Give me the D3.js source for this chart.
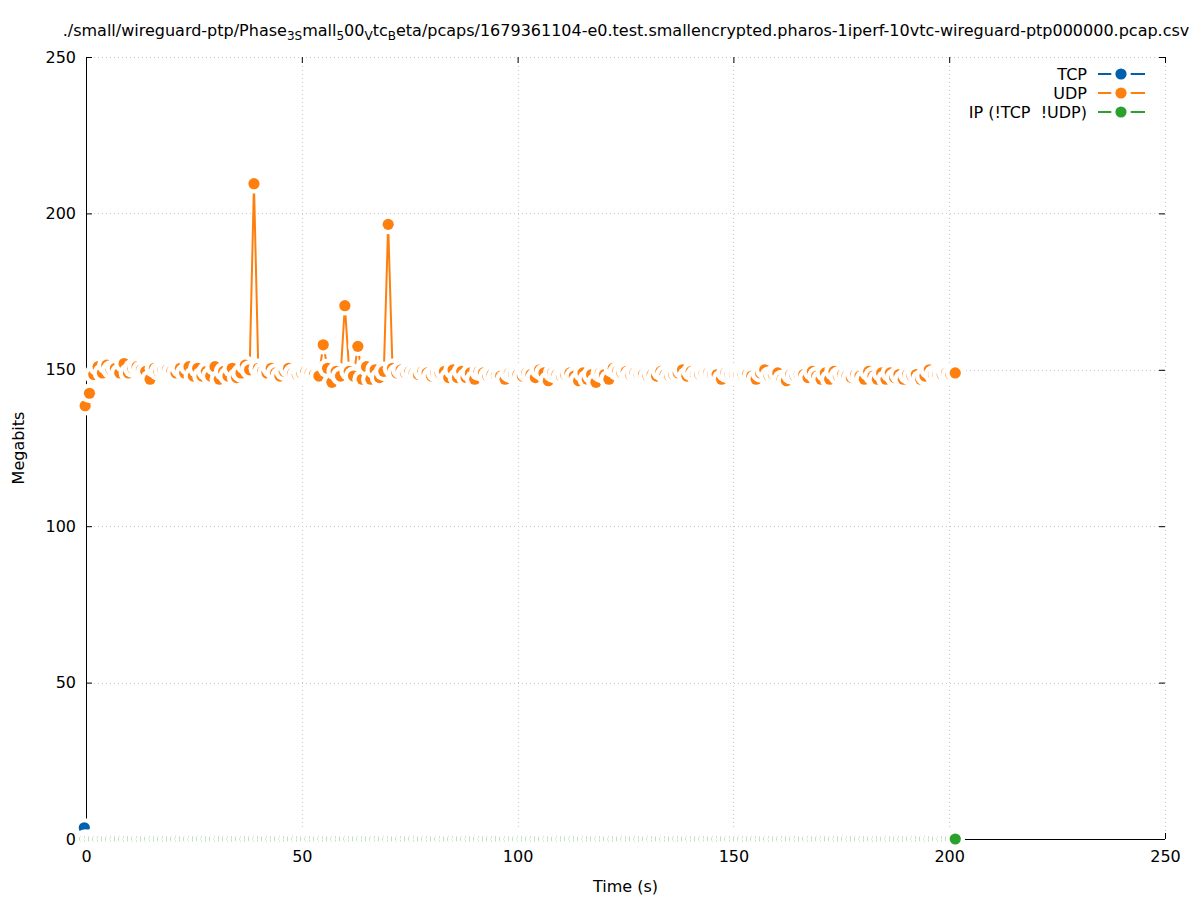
<!DOCTYPE html>
<html>
<head>
<meta charset="utf-8">
<script src="https://cdn.jsdelivr.net/npm/d3@7"></script>
<style>
  body { margin: 0; background: #fff; }
  svg { display: block; font-family: "DejaVu Sans", sans-serif; }
</style>
</head>
<body>
<div id="chart"></div>
<script>
// sampling: one row per second, first row slightly before 0
const sampleStart = -0.2;
const sampleStep = 1.003;

// UDP throughput (Megabits), one value per sample
const udpValues = [
  138.5, 142.5, 148.5, 151.0, 149.0, 151.5, 150.0, 150.5, 149.0, 152.0,
  149.0, 150.5, 151.0, 150.0, 149.5, 147.0, 150.5, 149.5, 150.0, 150.0,
  149.5, 149.0, 150.5, 149.0, 151.0, 148.0, 150.5, 148.0, 149.5, 148.0,
  151.0, 147.0, 149.5, 148.0, 150.5, 147.5, 149.0, 151.5, 150.0, 209.5,
  150.5, 149.5, 149.0, 150.5, 149.0, 148.0, 149.5, 150.5, 149.0, 148.5,
  149.0, 149.5, 149.0, 148.5, 148.0, 158.0, 150.5, 146.0, 149.5, 148.0,
  170.5, 149.5, 148.0, 157.5, 147.0, 151.0, 147.0, 150.0, 147.5, 149.5,
  196.5, 150.5, 149.0, 150.0, 149.0, 149.5, 149.0, 148.5, 149.5, 149.0,
  148.0, 149.0, 149.0, 149.5, 147.5, 150.0, 147.5, 149.5, 147.5, 149.0,
  147.0, 149.5, 149.0, 148.0, 148.5, 148.0, 148.0, 147.0, 149.0, 148.5,
  148.5, 148.0, 149.0, 148.5, 147.5, 150.0, 149.0, 146.5, 149.0, 148.5,
  148.0, 148.5, 149.0, 148.0, 146.5, 149.0, 147.0, 148.5, 146.0, 149.0,
  148.5, 147.0, 150.5, 149.5, 149.0, 149.5, 148.5, 149.0, 148.5, 148.5,
  148.0, 148.5, 148.0, 149.5, 148.5, 148.0, 148.5, 149.0, 150.0, 148.0,
  149.5, 148.5, 148.5, 149.0, 149.0, 148.5, 148.5, 147.0, 149.0, 148.5,
  148.5, 148.5, 148.5, 148.5, 148.0, 147.0, 149.0, 150.0, 148.0, 148.5,
  149.0, 147.0, 146.5, 148.5, 148.0, 148.5, 148.5, 147.5, 149.5, 148.0,
  147.0, 149.0, 147.0, 149.5, 148.0, 148.5, 148.0, 147.5, 148.5, 148.0,
  147.0, 149.5, 148.0, 147.0, 149.0, 147.0, 149.0, 147.5, 148.5, 147.0,
  148.5, 148.0, 148.5, 147.0, 148.0, 150.0, 148.5, 148.5, 148.5, 149.0,
  148.5, 149.0
];

// IP (!TCP !UDP) throughput, one value per sample
const ipValues = [
  0, 0, 0, 0, 0, 0, 0, 0, 0, 0, 0, 0, 0, 0, 0, 0, 0, 0, 0, 0,
  0, 0, 0, 0, 0, 0, 0, 0, 0, 0, 0, 0, 0, 0, 0, 0, 0, 0, 0, 0,
  0, 0, 0, 0, 0, 0, 0, 0, 0, 0, 0, 0, 0, 0, 0, 0, 0, 0, 0, 0,
  0, 0, 0, 0, 0, 0, 0, 0, 0, 0, 0, 0, 0, 0, 0, 0, 0, 0, 0, 0,
  0, 0, 0, 0, 0, 0, 0, 0, 0, 0, 0, 0, 0, 0, 0, 0, 0, 0, 0, 0,
  0, 0, 0, 0, 0, 0, 0, 0, 0, 0, 0, 0, 0, 0, 0, 0, 0, 0, 0, 0,
  0, 0, 0, 0, 0, 0, 0, 0, 0, 0, 0, 0, 0, 0, 0, 0, 0, 0, 0, 0,
  0, 0, 0, 0, 0, 0, 0, 0, 0, 0, 0, 0, 0, 0, 0, 0, 0, 0, 0, 0,
  0, 0, 0, 0, 0, 0, 0, 0, 0, 0, 0, 0, 0, 0, 0, 0, 0, 0, 0, 0,
  0, 0, 0, 0, 0, 0, 0, 0, 0, 0, 0, 0, 0, 0, 0, 0, 0, 0, 0, 0,
  0, 0
];

// TCP: a single sample right at the start
const tcpTimes = [-0.4];
const tcpValues = [3.6];

const seriesNames = ["TCP", "UDP", "IP (!TCP  !UDP)"];
const seriesColors = ["#0060ad", "#ff7f0e", "#2ca02c"];

const xTicks = [0, 50, 100, 150, 200, 250];
const yTicks = [0, 50, 100, 150, 200, 250];

const width = 1197, height = 900;
const margin = { top: 57, right: 32, bottom: 61, left: 86 };
const plotW = width - margin.left - margin.right;
const plotH = height - margin.top - margin.bottom;

const svg = d3.select("#chart").append("svg")
  .attr("width", width)
  .attr("height", height);

svg.append("rect").attr("width", width).attr("height", height).attr("fill", "#fff");

const x = d3.scaleLinear().domain([0, 250]).range([margin.left, margin.left + plotW]);
const y = d3.scaleLinear().domain([0, 250]).range([margin.top + plotH, margin.top]);

// grid
const grid = svg.append("g")
  .attr("stroke", "#c8c8c8")
  .attr("stroke-width", 1)
  .attr("stroke-dasharray", "1,3");
grid.selectAll(".gx").data(xTicks).join("line")
  .attr("x1", d => Math.round(x(d)) + 0.5).attr("x2", d => Math.round(x(d)) + 0.5)
  .attr("y1", y(0)).attr("y2", y(250));
grid.selectAll(".gy").data(yTicks).join("line")
  .attr("y1", d => Math.round(y(d)) + 0.5).attr("y2", d => Math.round(y(d)) + 0.5)
  .attr("x1", x(0)).attr("x2", x(250));

// axes (inward ticks, mirrored ticks on top and right without border)
const fontSize = 16;
const yAxis = svg.append("g")
  .attr("transform", `translate(${margin.left},0)`)
  .call(d3.axisLeft(y).tickValues(yTicks).tickSize(-6).tickPadding(10));
const xAxis = svg.append("g")
  .attr("transform", `translate(0,${margin.top + plotH})`)
  .call(d3.axisBottom(x).tickValues(xTicks).tickSize(-6).tickPadding(12));
svg.append("g")
  .attr("transform", `translate(0,${margin.top})`)
  .call(d3.axisTop(x).tickValues(xTicks).tickSize(-6).tickFormat(""))
  .call(g => g.select(".domain").remove());
svg.append("g")
  .attr("transform", `translate(${margin.left + plotW},0)`)
  .call(d3.axisRight(y).tickValues(yTicks).tickSize(-6).tickFormat(""))
  .call(g => g.select(".domain").remove());

svg.selectAll(".domain").attr("stroke", "#000");
svg.selectAll(".tick line").attr("stroke", "#000");
[xAxis, yAxis].forEach(a => a.selectAll("text")
  .attr("font-family", "DejaVu Sans")
  .attr("font-size", fontSize)
  .attr("fill", "#000"));
yAxis.select(".domain").attr("d", `M0.5,${y(0)}V${y(250)}`);
xAxis.select(".domain").attr("d", `M${x(0)},0.5H${x(250)}`);

// series: line underneath, then every point with a white halo
const ptR = 5.6, haloR = 9.8;
function drawSeries(times, values, color) {
  const pts = values.map((v, i) => ({ t: times[i], v }));
  const g = svg.append("g");
  g.append("path")
    .datum(pts)
    .attr("fill", "none")
    .attr("stroke", color)
    .attr("stroke-width", 2)
    .attr("d", d3.line().x(d => x(d.t)).y(d => y(d.v)));
  const p = g.selectAll(".pt").data(pts).join("g").attr("class", "pt");
  p.append("circle").attr("cx", d => x(d.t)).attr("cy", d => y(d.v))
    .attr("r", haloR).attr("fill", "#fff");
  p.append("circle").attr("cx", d => x(d.t)).attr("cy", d => y(d.v))
    .attr("r", ptR).attr("fill", color);
}

const udpTimes = udpValues.map((v, i) => sampleStart + i * sampleStep);
const ipTimes = ipValues.map((v, i) => sampleStart + i * sampleStep);

drawSeries(tcpTimes, tcpValues, seriesColors[0]);
drawSeries(udpTimes, udpValues, seriesColors[1]);
drawSeries(ipTimes, ipValues, seriesColors[2]);

// legend
const legend = svg.append("g");
seriesNames.forEach((name, i) => {
  const ly = 74 + i * 19;
  legend.append("text")
    .attr("x", 1087).attr("y", ly).attr("dy", "0.35em")
    .attr("text-anchor", "end")
    .attr("font-size", fontSize)
    .style("white-space", "pre")
    .text(name);
  legend.append("line")
    .attr("x1", 1098).attr("x2", 1145).attr("y1", ly).attr("y2", ly)
    .attr("stroke", seriesColors[i]).attr("stroke-width", 2);
  legend.append("circle").attr("cx", 1121).attr("cy", ly).attr("r", haloR).attr("fill", "#fff");
  legend.append("circle").attr("cx", 1121).attr("cy", ly).attr("r", ptR).attr("fill", seriesColors[i]);
});

// axis titles
svg.append("text")
  .attr("x", x(125)).attr("y", 892)
  .attr("text-anchor", "middle").attr("font-size", fontSize)
  .text("Time (s)");
svg.append("text")
  .attr("transform", `translate(24,${y(125)}) rotate(-90)`)
  .attr("text-anchor", "middle").attr("font-size", fontSize)
  .text("Megabits");

// title with gnuplot-style subscripts
const titleParts = [
  ["./small/wireguard-ptp/Phase", false], ["3S", true], ["mall", false], ["5", true],
  ["00", false], ["V", true], ["tc", false], ["B", true],
  ["eta/pcaps/1679361104-e0.test.smallencrypted.pharos-1iperf-10vtc-wireguard-ptp000000.pcap.csv", false]
];
const title = svg.append("text")
  .attr("x", 626).attr("y", 36)
  .attr("text-anchor", "middle").attr("font-size", fontSize);
let shifted = false;
titleParts.forEach(([s, sub]) => {
  const dy = sub ? (shifted ? 0 : 4) : (shifted ? -4 : 0);
  shifted = sub;
  title.append("tspan")
    .attr("font-size", sub ? 12 : fontSize)
    .attr("dy", dy)
    .text(s);
});
</script>
</body>
</html>
